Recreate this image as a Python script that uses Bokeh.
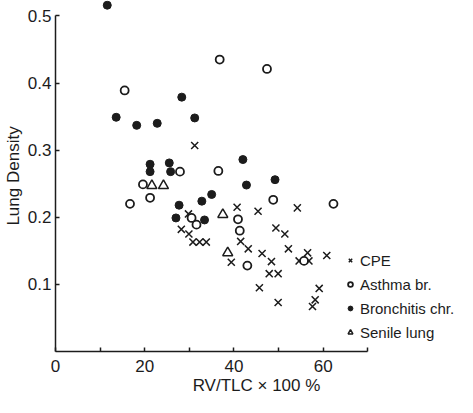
from bokeh.plotting import figure
from bokeh.models import FixedTicker, Legend, LegendItem, Range1d
from bokeh.embed import file_html
from bokeh.resources import INLINE

# CPE (x markers)
cpe_x = [31.2, 29.8, 28.2, 29.9, 30.8, 32.3, 33.8, 40.7, 45.4, 54.2, 49.4, 51.4, 41.5, 43.2,
         52.2, 46.3, 48.4, 39.4, 47.9, 49.9, 45.7, 49.9, 56.5, 54.6, 56.8, 60.8, 59.1, 58.2, 57.6]
cpe_y = [0.307, 0.205, 0.182, 0.175, 0.163, 0.163, 0.163, 0.215, 0.209, 0.214, 0.184, 0.175, 0.164, 0.153,
         0.153, 0.146, 0.134, 0.133, 0.116, 0.116, 0.095, 0.073, 0.147, 0.135, 0.135, 0.143, 0.094, 0.077, 0.067]

# Asthma br. (open circles)
asthma_x = [15.5, 36.8, 47.4, 27.9, 19.6, 21.2, 16.7, 30.5, 31.6, 36.5, 48.8, 40.9, 41.3, 62.3, 43.0, 55.7]
asthma_y = [0.389, 0.435, 0.421, 0.268, 0.249, 0.229, 0.220, 0.199, 0.189, 0.269, 0.226, 0.197, 0.180, 0.220, 0.128, 0.135]

# Bronchitis chr. (filled circles)
bronch_x = [11.6, 13.6, 18.2, 22.8, 28.3, 31.2, 21.2, 21.2, 25.5, 25.8, 42.0, 42.8, 49.2, 35.0, 32.8, 27.7, 27.0, 33.4]
bronch_y = [0.516, 0.349, 0.337, 0.340, 0.379, 0.348, 0.279, 0.268, 0.281, 0.268, 0.286, 0.248, 0.256, 0.234, 0.224, 0.218, 0.199, 0.196]

# Senile lung (open triangles)
senile_x = [21.6, 24.2, 37.5, 38.6]
senile_y = [0.247, 0.247, 0.204, 0.147]

x_ticks = [0, 10, 20, 30, 40, 50, 60, 70]
x_tick_labels = {0: "0", 10: "", 20: "20", 30: "", 40: "40", 50: "", 60: "60", 70: ""}
y_ticks = [0.1, 0.2, 0.3, 0.4, 0.5]

FONT = "Liberation Sans"
INK = "#1c1c1c"

p = figure(width=457, height=397, output_backend="svg", toolbar_location=None,
           x_range=Range1d(0, 90.1), y_range=Range1d(0, 0.523),
           min_border_left=50, min_border_right=0, min_border_top=0, min_border_bottom=46,
           x_axis_label="RV/TLC × 100 %", y_axis_label="Lung Density")
p.outline_line_color = None
p.grid.visible = False
p.background_fill_color = "white"

for ax in (p.xaxis[0], p.yaxis[0]):
    ax.axis_line_color = INK
    ax.axis_line_width = 1.5
    ax.major_tick_line_color = INK
    ax.major_tick_line_width = 1.5
    ax.major_tick_in = 4
    ax.major_tick_out = 0
    ax.minor_tick_line_color = None
    ax.major_label_text_font = FONT
    ax.major_label_text_font_size = "17px"
    ax.major_label_text_color = INK
    ax.axis_label_text_font = FONT
    ax.axis_label_text_font_size = "17px"
    ax.axis_label_text_font_style = "normal"
    ax.axis_label_text_color = INK

p.xaxis[0].ticker = FixedTicker(ticks=x_ticks)
p.xaxis[0].major_label_overrides = x_tick_labels
p.xaxis[0].bounds = (0, 70)
p.xaxis[0].major_label_standoff = 8
p.xaxis[0].axis_label_standoff = 1

p.yaxis[0].ticker = FixedTicker(ticks=y_ticks)
p.yaxis[0].bounds = (0, 0.5)
p.yaxis[0].major_label_standoff = 4
p.yaxis[0].axis_label_standoff = 2

r_cpe = p.scatter(cpe_x, cpe_y, marker="x", size=10, line_color=INK, line_width=1.5)
r_asthma = p.scatter(asthma_x, asthma_y, marker="circle", size=8, line_color=INK, line_width=1.8,
                     fill_color="white")
r_bronch = p.scatter(bronch_x, bronch_y, marker="circle", size=8, line_color=INK, line_width=1,
                     fill_color=INK)
r_senile = p.scatter(senile_x, senile_y, marker="triangle", size=10, line_color=INK, line_width=1.5,
                     fill_color="white")

legend = Legend(items=[LegendItem(label="CPE", renderers=[r_cpe]),
                       LegendItem(label="Asthma br.", renderers=[r_asthma]),
                       LegendItem(label="Bronchitis chr.", renderers=[r_bronch]),
                       LegendItem(label="Senile lung", renderers=[r_senile])],
                location=(289, 9), glyph_width=12, glyph_height=20, label_height=20,
                spacing=4, padding=0, margin=0, label_standoff=4,
                border_line_alpha=0, background_fill_alpha=0,
                label_text_font=FONT, label_text_font_size="15px", label_text_color=INK)
p.add_layout(legend)

open("out.html", "w").write(file_html(p, INLINE))
